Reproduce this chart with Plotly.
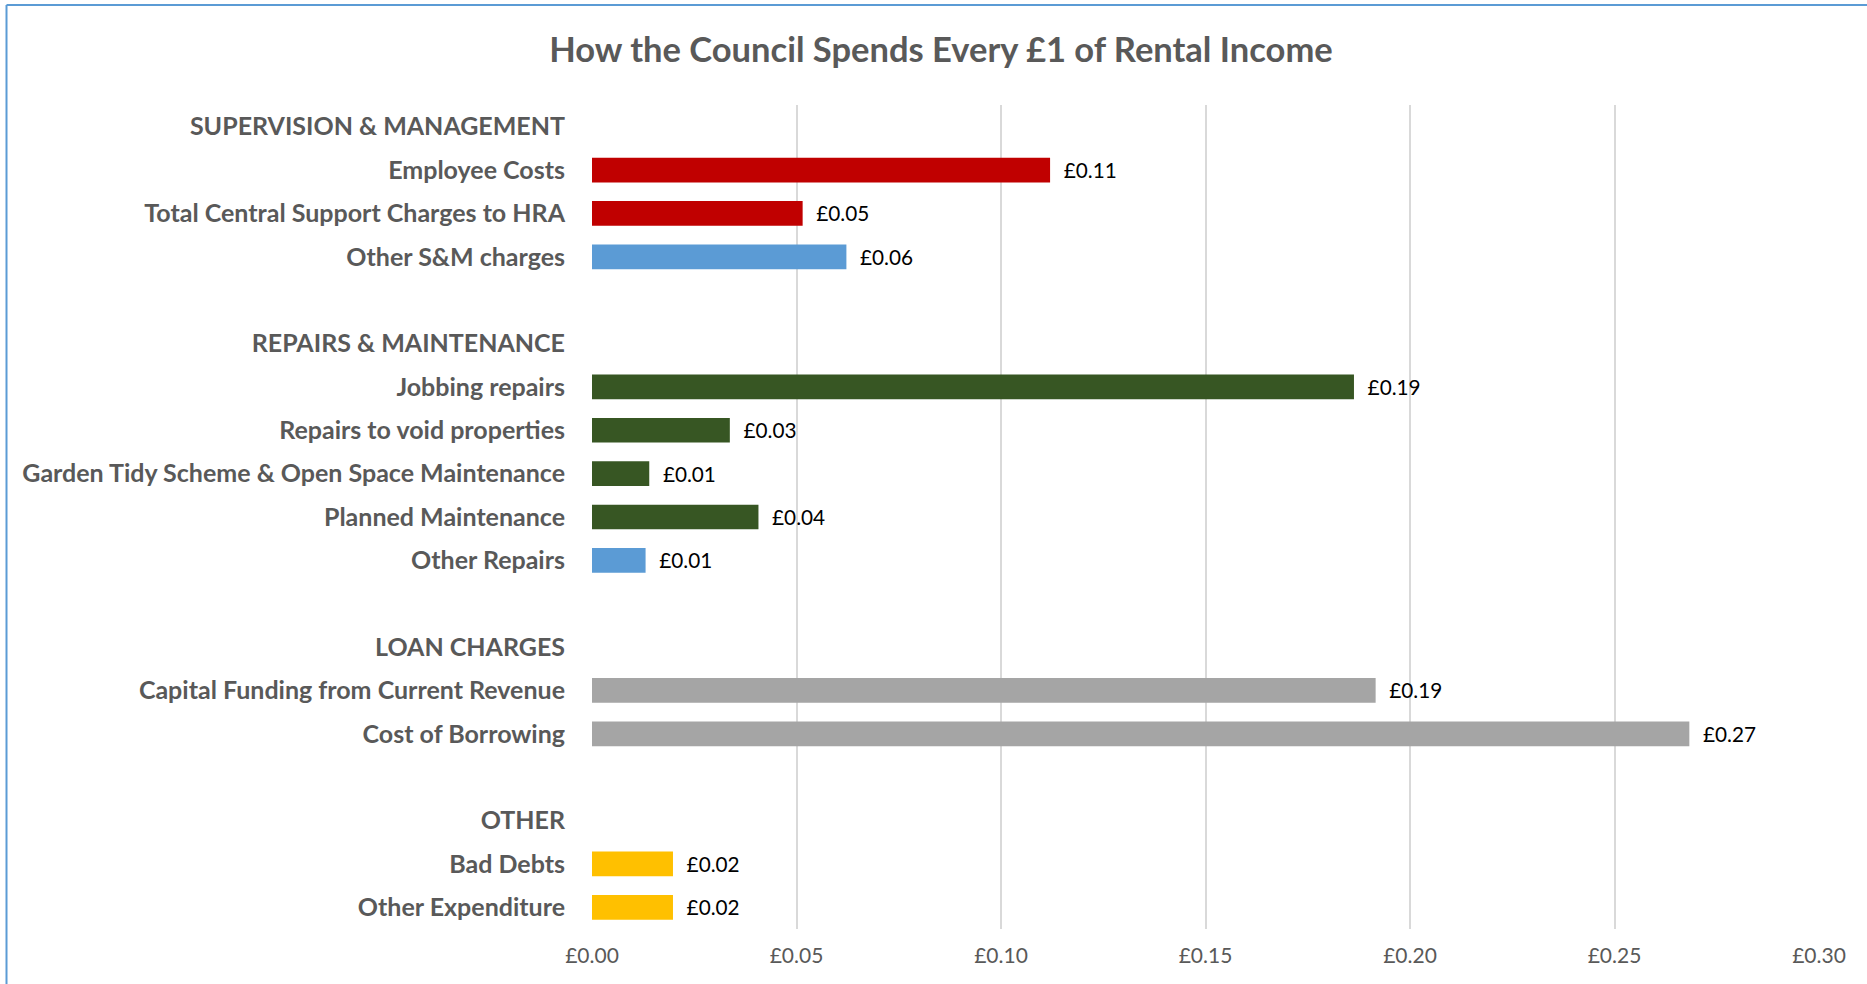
import plotly.graph_objects as go

categories = [
    "SUPERVISION & MANAGEMENT", "Employee Costs", "Total Central Support Charges to HRA",
    "Other S&M charges", " ", "REPAIRS & MAINTENANCE", "Jobbing repairs",
    "Repairs to void properties", "Garden Tidy Scheme & Open Space Maintenance",
    "Planned Maintenance", "Other Repairs", "  ", "LOAN CHARGES",
    "Capital Funding from Current Revenue", "Cost of Borrowing", "   ", "OTHER",
    "Bad Debts", "Other Expenditure",
]
values = [
    None, 0.112, 0.0515, 0.0622, None, None, 0.1863, 0.0337, 0.0140,
    0.0407, 0.0131, None, None, 0.1916, 0.2683, None, None, 0.0198, 0.0198,
]
group_colors = [
    "#FFFFFF", "#C00000", "#C00000", "#5B9BD5", "#FFFFFF", "#FFFFFF", "#375623",
    "#375623", "#375623", "#375623", "#5B9BD5", "#FFFFFF", "#FFFFFF", "#A5A5A5",
    "#A5A5A5", "#FFFFFF", "#FFFFFF", "#FFC000", "#FFC000",
]
x_ticks = [0.0, 0.05, 0.10, 0.15, 0.20, 0.25, 0.30]
x_tick_labels = ["£0.00", "£0.05", "£0.10", "£0.15", "£0.20", "£0.25", "£0.30"]

W, H = 1867, 984
L, R, T, B = 592, 1819, 105, 929
FONT = "Lato"

fig = go.Figure()
fig.add_trace(go.Bar(
    y=categories, x=values, orientation="h",
    marker=dict(color=group_colors, line=dict(width=0)),
    width=0.57,
    texttemplate="\u00a0\u00a0£%{x:.2f}", textposition="outside",
    textfont=dict(family=FONT, size=23.5, color="#000000"),
    cliponaxis=False, hoverinfo="skip",
))

fig.update_layout(
    width=W, height=H,
    margin=dict(l=L, r=W - R, t=T, b=H - B, pad=0),
    paper_bgcolor="white", plot_bgcolor="white",
    showlegend=False,
    bargap=0.43,
    title=dict(
        text="How the Council Spends Every £1 of Rental Income",
        font=dict(family=FONT, size=34.5, color="#595959", weight="bold"),
        x=941 / W, xanchor="center", xref="container",
        y=1 - 50 / H, yanchor="middle", yref="container",
    ),
    xaxis=dict(
        range=[0, 0.30], tickvals=x_ticks, ticktext=x_tick_labels,
        showgrid=True, gridcolor="#D9D9D9", gridwidth=1.5, zeroline=False,
        showline=False, ticks="",
        tickfont=dict(family=FONT, size=21, color="#595959"),
        ticklabelstandoff=12, fixedrange=True,
    ),
    yaxis=dict(
        categoryorder="array", categoryarray=categories, autorange="reversed",
        showgrid=False, zeroline=False, showline=False, ticks="",
        tickfont=dict(family=FONT, size=25, color="#595959", weight="bold"),
        ticklabelstandoff=26, fixedrange=True,
    ),
)

# chart border (blue frame around the chart area)
pw, ph = R - L, B - T
def px_x(x):
    return (x - L) / pw
def px_y(y):
    return (B - y) / ph
fig.add_shape(type="line", xref="paper", yref="paper",
              x0=px_x(6.5), x1=px_x(W + 10), y0=px_y(5), y1=px_y(5),
              line=dict(color="#5B9BD5", width=2))
fig.add_shape(type="line", xref="paper", yref="paper",
              x0=px_x(6.5), x1=px_x(6.5), y0=px_y(5), y1=px_y(H + 10),
              line=dict(color="#5B9BD5", width=2))

fig.write_html("out.html")
